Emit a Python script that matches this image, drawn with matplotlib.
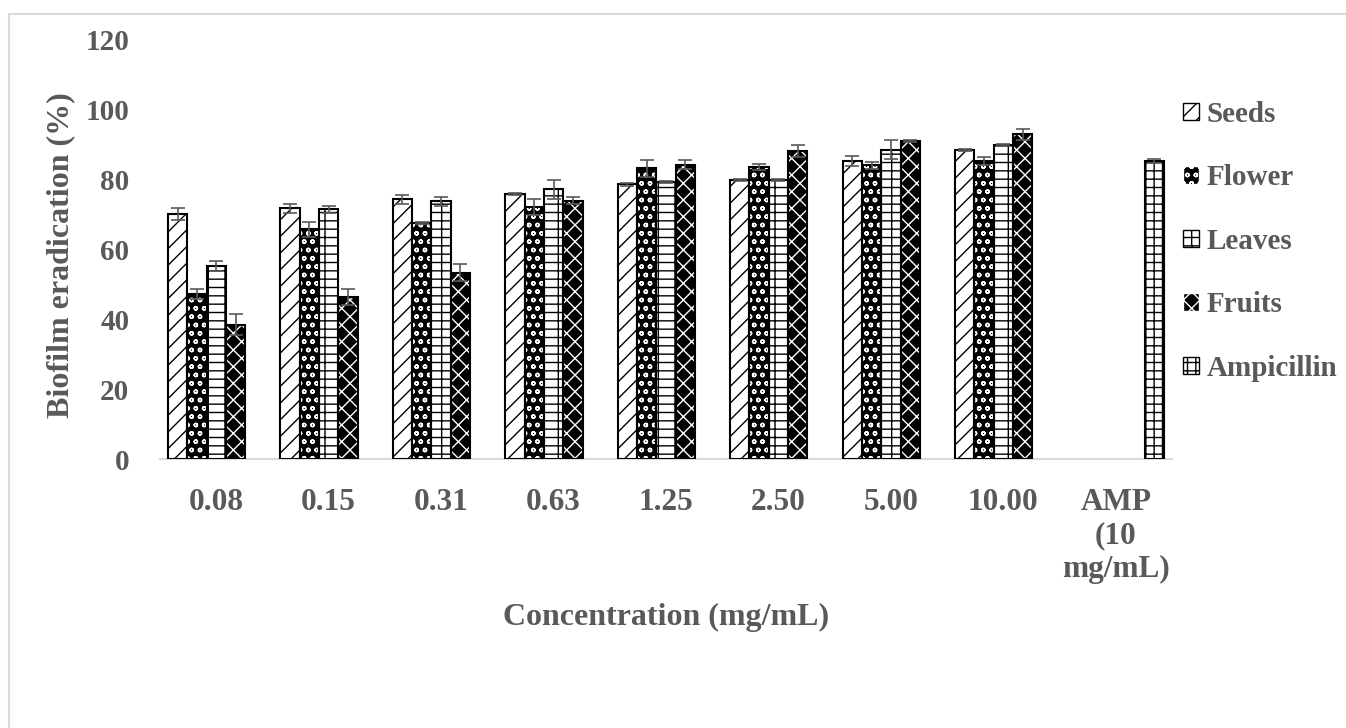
import numpy as np
import matplotlib
matplotlib.use("Agg")
import matplotlib.pyplot as plt
from matplotlib.patches import Patch, Rectangle

## Data ##
categories = ['0.08', '0.15', '0.31', '0.63', '1.25', '2.50', '5.00', '10.00', 'AMP\n(10\nmg/mL)']
series_names = ['Seeds', 'Flower', 'Leaves', 'Fruits', 'Ampicillin']
nan = np.nan
seeds = [70.0, 71.6, 74.2, 75.7, 78.5, 79.7, 85.1, 88.2, nan]
flower = [47.1, 65.6, 67.4, 72.0, 83.1, 83.5, 83.9, 85.2, nan]
leaves = [55.1, 71.3, 73.7, 77.1, 79.1, 79.7, 88.4, 89.7, nan]
fruits = [38.3, 46.4, 53.2, 73.8, 84.1, 88.0, 90.9, 92.8, nan]
ampicillin = [nan, nan, nan, nan, nan, nan, nan, nan, 85.1]
seeds_err = [1.7, 1.2, 1.2, 0.2, 0.5, 0.2, 1.4, 0.3, nan]
flower_err = [1.5, 2.1, 0.3, 2.3, 2.4, 0.8, 1.0, 1.1, nan]
leaves_err = [1.5, 1.1, 1.3, 2.7, 0.3, 0.2, 2.7, 0.3, nan]
fruits_err = [3.0, 2.3, 2.4, 1.0, 1.2, 1.6, 0.3, 1.6, nan]
ampicillin_err = [nan, nan, nan, nan, nan, nan, nan, nan, 0.6]

values = [seeds, flower, leaves, fruits, ampicillin]
errors = [seeds_err, flower_err, leaves_err, fruits_err, ampicillin_err]

## Styles: (face, hatch colour, hatch) ##
styles = [('white', 'black', '//'),
          ('black', 'white', 'oo'),
          ('white', 'black', '--|'),
          ('black', 'white', 'xx'),
          ('white', 'black', '++')]

grey = '#595959'
plt.rcParams['font.family'] = ['Liberation Serif', 'DejaVu Serif']
plt.rcParams['font.weight'] = 'bold'
plt.rcParams['hatch.linewidth'] = 1.0

fig = plt.figure(figsize=(13.46, 7.28), dpi=100)
ax = fig.add_axes([160/1346, 1-459/728, 1012/1346, 420/728])

x = np.arange(len(categories))
w = 0.172
for k in range(5):
    vals = np.array(values[k], dtype=float)
    errs = np.array(errors[k], dtype=float)
    m = ~np.isnan(vals)
    xs = x[m] + (k-2)*w
    face, hc, hatch = styles[k]
    ax.bar(xs, vals[m], w, color=face, edgecolor=hc, hatch=hatch, linewidth=0, zorder=2)
    ax.bar(xs, vals[m], w, fill=False, edgecolor='black', linewidth=1.5, zorder=3)
    ax.errorbar(xs, vals[m], yerr=errs[m], fmt='none', ecolor=grey,
                elinewidth=1.2, capsize=5, capthick=1.2, zorder=4)

ax.set_xlim(-0.5, len(categories)-0.5)
ax.set_ylim(0, 120)
ax.set_yticks(np.arange(0, 121, 20))
ax.set_xticks(x)
ax.set_xticklabels(categories, linespacing=1.2)
ax.tick_params(axis='both', length=0, labelcolor=grey)
ax.tick_params(axis='y', pad=22, labelsize=21)
ax.tick_params(axis='x', pad=21, labelsize=22.5)
for s in ['top', 'right', 'left']:
    ax.spines[s].set_visible(False)
ax.spines['bottom'].set_color('#d9d9d9')
ax.spines['bottom'].set_linewidth(1.5)

ax.set_ylabel('Biofilm eradication (%)', fontsize=23, color=grey, fontweight='bold')
ax.yaxis.set_label_coords(-0.084, 0.485)
ax.set_xlabel('Concentration (mg/mL)', fontsize=23, color=grey, fontweight='bold')
ax.xaxis.set_label_coords(0.5, -0.343)

## Legend ##
handles = []
for k in range(5):
    face, hc, hatch = styles[k]
    handles.append(Patch(facecolor=face, edgecolor=hc, hatch=hatch, linewidth=1))
leg = fig.legend(handles, series_names, loc='upper left',
                 bbox_to_anchor=(1183/1346, 1-101/728), frameon=False,
                 fontsize=21, handlelength=0.55, handleheight=0.55,
                 handletextpad=0.25, labelspacing=1.25, borderpad=0, borderaxespad=0)
for t in leg.get_texts():
    t.set_color(grey)
    t.set_fontweight('bold')

## Chart border ##
fig.patches.append(Rectangle((9/1346, -0.1), 1.2, 1.1 - 14/728, transform=fig.transFigure,
                             fill=False, edgecolor='#d9d9d9', linewidth=1.5))

fig.savefig('out.png', dpi=100)
